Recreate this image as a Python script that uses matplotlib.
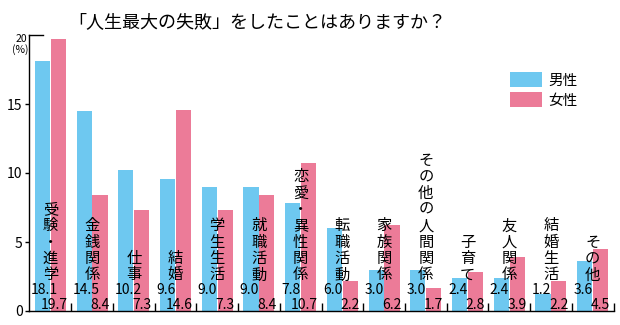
import numpy as np
import matplotlib
matplotlib.use('Agg')
import matplotlib.pyplot as plt
from matplotlib.patches import Patch

plt.rcParams['font.family'] = ['Noto Sans CJK JP', 'DejaVu Sans']

categories = ['受験・進学', '金銭関係', '仕事', '結婚', '学生生活', '就職活動',
              '恋愛・異性関係', '転職活動', '家族関係', 'その他の人間関係',
              '子育て', '友人関係', '結婚生活', 'その他']
male = [18.1, 14.5, 10.2, 9.6, 9.0, 9.0, 7.8, 6.0, 3.0, 3.0, 2.4, 2.4, 1.2, 3.6]
female = [19.7, 8.4, 7.3, 14.6, 7.3, 8.4, 10.7, 2.2, 6.2, 1.7, 2.8, 3.9, 2.2, 4.5]
series = ['男性', '女性']

C_MALE = '#6EC8F0'
C_FEMALE = '#EC7B98'

fig = plt.figure(figsize=(6.2, 3.25), dpi=100)
fig.patch.set_facecolor('white')
ax = fig.add_axes([29.5 / 620, 14 / 325, 584 / 620, 276 / 325])

x = np.arange(len(categories))
w = 0.36
ax.bar(x - 0.19, male, w, color=C_MALE, zorder=2)
ax.bar(x + 0.19, female, w, color=C_FEMALE, zorder=2)

ax.set_xlim(-0.5, len(categories) - 0.5)
ax.set_ylim(0, 20)

# 軸まわり
for s in ['top', 'right']:
    ax.spines[s].set_visible(False)
ax.spines['left'].set_linewidth(1)
ax.spines['bottom'].set_linewidth(1)
ax.set_xticks(x + 0.5)
ax.set_xticklabels([])
ax.tick_params(axis='x', direction='in', length=6, width=1)
ax.set_yticks([0, 5, 10, 15])
ax.set_yticklabels(['0', '5', '10', '15'], fontsize=10)
ax.tick_params(axis='y', direction='out', length=3, width=1, pad=2)
ax.axhline(20, xmin=0, xmax=13 / 584, color='black', lw=1, clip_on=False)
ax.annotate('20', xy=(0, 1), xycoords='axes fraction', xytext=(-2, -3),
            textcoords='offset points', ha='right', va='center', fontsize=7.5)
ax.annotate('(%)', xy=(0, 1), xycoords='axes fraction', xytext=(-1, -10.5),
            textcoords='offset points', ha='right', va='center', fontsize=7.5)

# カテゴリ名（縦書き）
for i, name in enumerate(categories):
    ax.text(x[i], 2.0, '\n'.join(name), ha='center', va='bottom',
            fontsize=11, linespacing=0.95, zorder=3)

# 数値
for i in range(len(categories)):
    ax.annotate(f'{male[i]:.1f}', xy=(x[i] - 0.5, 1.5), xytext=(1, 0),
                textcoords='offset points', ha='left', va='center',
                fontsize=10, zorder=3)
    ax.annotate(f'{female[i]:.1f}', xy=(x[i] + 0.5, 0.45), xytext=(-2.5, 0),
                textcoords='offset points', ha='right', va='center',
                fontsize=10, zorder=3)

handles = [Patch(facecolor=C_MALE), Patch(facecolor=C_FEMALE)]
fig.legend(handles, series, loc='upper left',
           bbox_to_anchor=(510 / 620, 1 - 72 / 325),
           frameon=False, fontsize=10.5, handlelength=2.2, handleheight=1.25,
           handletextpad=0.45, labelspacing=0.3, borderpad=0, borderaxespad=0)

fig.text(257 / 620, 1 - 22 / 325, '「人生最大の失敗」をしたことはありますか？',
         ha='center', va='center', fontsize=13)

fig.savefig('out.png', dpi=100, facecolor='white')
